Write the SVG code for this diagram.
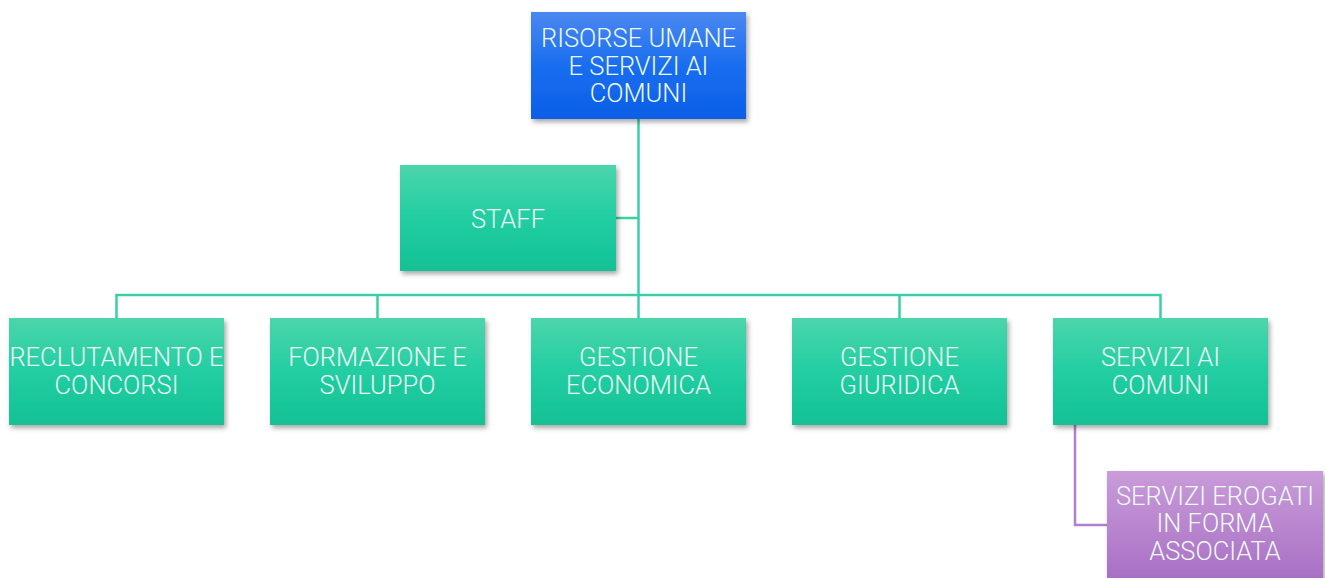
<svg xmlns="http://www.w3.org/2000/svg" width="1325" height="578" viewBox="0 0 1325 578">
<defs>
<linearGradient id="gBlue" x1="0" y1="0" x2="0" y2="1"><stop offset="0" stop-color="#4b88f0"/><stop offset="0.5" stop-color="#1a6ef0"/><stop offset="1" stop-color="#0a5ee6"/></linearGradient>
<linearGradient id="gGreen" x1="0" y1="0" x2="0" y2="1"><stop offset="0" stop-color="#4cd5ab"/><stop offset="0.5" stop-color="#22cea2"/><stop offset="1" stop-color="#12c194"/></linearGradient>
<linearGradient id="gPurple" x1="0" y1="0" x2="0" y2="1"><stop offset="0" stop-color="#c99cd9"/><stop offset="1" stop-color="#a86fc4"/></linearGradient>
<filter id="sh" x="-10%" y="-10%" width="125%" height="130%"><feDropShadow dx="2" dy="3" stdDeviation="2.5" flood-color="#000" flood-opacity="0.35"/></filter>
</defs>
<style>
.t{font-family:Roboto,"Liberation Sans",sans-serif;font-weight:300;font-size:25.5px;fill:#eefaf5;text-anchor:middle}
.c{fill:none;stroke:#3ccfa5;stroke-width:2.5}
.p{fill:none;stroke:#b27fcc;stroke-width:2.5}
</style>
<g id="connectors">
<path class="c" d="M638.5 118V295"/>
<path class="c" d="M616 218H638.5"/>
<path class="c" d="M116.5 318V295H1160.5V318"/>
<path class="c" d="M377.5 295V318M899.5 295V318M638.5 295V318"/>
<path class="p" d="M1075 425V525H1107"/>
</g>
<g id="n-risorse"><rect x="531" y="12" width="215" height="107" fill="url(#gBlue)" filter="url(#sh)"/><text class="t" x="638.5"><tspan x="638.5" y="47">RISORSE UMANE</tspan><tspan x="638.5" y="75">E SERVIZI AI</tspan><tspan x="638.5" y="102">COMUNI</tspan></text></g>
<g id="n-staff"><rect x="400" y="165" width="216" height="106" fill="url(#gGreen)" filter="url(#sh)"/><text class="t" x="508" y="228">STAFF</text></g>
<g id="n-reclutamento"><rect x="9" y="318" width="215" height="107" fill="url(#gGreen)" filter="url(#sh)"/><text class="t"><tspan x="116.5" y="366">RECLUTAMENTO E</tspan><tspan x="116.5" y="394">CONCORSI</tspan></text></g>
<g id="n-formazione"><rect x="270" y="318" width="215" height="107" fill="url(#gGreen)" filter="url(#sh)"/><text class="t"><tspan x="377.5" y="366">FORMAZIONE E</tspan><tspan x="377.5" y="394">SVILUPPO</tspan></text></g>
<g id="n-economica"><rect x="531" y="318" width="215" height="107" fill="url(#gGreen)" filter="url(#sh)"/><text class="t"><tspan x="638.5" y="366">GESTIONE</tspan><tspan x="638.5" y="394">ECONOMICA</tspan></text></g>
<g id="n-giuridica"><rect x="792" y="318" width="215" height="107" fill="url(#gGreen)" filter="url(#sh)"/><text class="t"><tspan x="899.5" y="366">GESTIONE</tspan><tspan x="899.5" y="394">GIURIDICA</tspan></text></g>
<g id="n-servizi"><rect x="1053" y="318" width="215" height="107" fill="url(#gGreen)" filter="url(#sh)"/><text class="t"><tspan x="1160.5" y="366">SERVIZI AI</tspan><tspan x="1160.5" y="394">COMUNI</tspan></text></g>
<g id="n-associata"><rect x="1107" y="471" width="216" height="110" fill="url(#gPurple)" filter="url(#sh)"/><text class="t"><tspan x="1215" y="505">SERVIZI EROGATI</tspan><tspan x="1215" y="532">IN FORMA</tspan><tspan x="1215" y="560">ASSOCIATA</tspan></text></g>
</svg>
